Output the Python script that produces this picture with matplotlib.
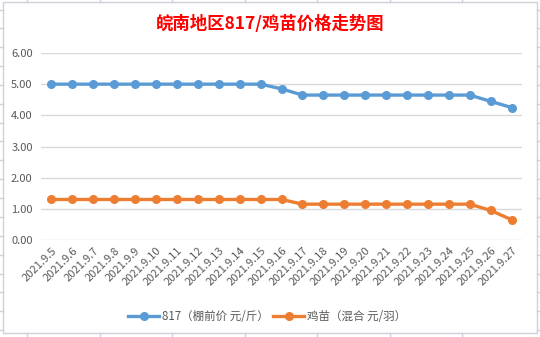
import matplotlib
matplotlib.use("Agg")
import matplotlib.pyplot as plt
from matplotlib.patches import Rectangle
from matplotlib.lines import Line2D

plt.rcParams['font.family'] = ['Noto Sans CJK SC', 'DejaVu Sans']

dates = ["2021.9.5", "2021.9.6", "2021.9.7", "2021.9.8", "2021.9.9", "2021.9.10",
         "2021.9.11", "2021.9.12", "2021.9.13", "2021.9.14", "2021.9.15", "2021.9.16",
         "2021.9.17", "2021.9.18", "2021.9.19", "2021.9.20", "2021.9.21", "2021.9.22",
         "2021.9.23", "2021.9.24", "2021.9.25", "2021.9.26", "2021.9.27"]
price_817 = [5.00, 5.00, 5.00, 5.00, 5.00, 5.00, 5.00, 5.00, 5.00, 5.00, 5.00, 4.85,
             4.65, 4.65, 4.65, 4.65, 4.65, 4.65, 4.65, 4.65, 4.65, 4.45, 4.25]
price_chick = [1.30, 1.30, 1.30, 1.30, 1.30, 1.30, 1.30, 1.30, 1.30, 1.30, 1.30, 1.30,
               1.15, 1.15, 1.15, 1.15, 1.15, 1.15, 1.15, 1.15, 1.15, 0.95, 0.65]
yticks = [0, 1, 2, 3, 4, 5, 6]
series_names = ["817（棚前价 元/斤）", "鸡苗（混合 元/羽）"]
title = "皖南地区817/鸡苗价格走势图"

W, H = 540, 337
fig = plt.figure(figsize=(W / 100, H / 100), dpi=100)
fig.patch.set_facecolor('white')

# chart border
fig.add_artist(Rectangle((3 / W, 1 - 333 / H), (537 - 3) / W, (333 - 2) / H,
                         transform=fig.transFigure, fill=False, edgecolor='#D0D0D8', lw=1))
# spreadsheet grid fragments outside the chart
for x in [27, 100, 172, 245, 317, 390, 462]:
    fig.add_artist(Line2D([x / W, x / W], [1, 1 - 2 / H], transform=fig.transFigure, color='#D0D0D8', lw=1))
    fig.add_artist(Line2D([x / W, x / W], [0, 4 / H], transform=fig.transFigure, color='#D0D0D8', lw=1))
for y in [10, 28, 47, 66, 85, 104, 123, 141, 160, 179, 198, 217, 236, 255, 274, 292, 311, 330]:
    fig.add_artist(Line2D([0, 3 / W], [1 - y / H, 1 - y / H], transform=fig.transFigure, color='#D0D0D8', lw=1))
    fig.add_artist(Line2D([537 / W, 1], [1 - y / H, 1 - y / H], transform=fig.transFigure, color='#D0D0D8', lw=1))

left, right, top, bottom = 41, 522, 53, 240
ax = fig.add_axes([left / W, 1 - bottom / H, (right - left) / W, (bottom - top) / H])
x = list(range(len(dates)))
ax.plot(x, price_817, color='#5B9BD5', lw=2.4, marker='o', markersize=5.5, label=series_names[0], zorder=3)
ax.plot(x, price_chick, color='#ED7D31', lw=2.4, marker='o', markersize=5.5, label=series_names[1], zorder=3)

ax.set_xlim(-0.5, len(dates) - 0.5)
ax.set_ylim(0, 6)
ax.set_yticks(yticks)
ax.set_yticklabels([f"{v:.2f}" for v in yticks], fontsize=8, color='#595959')
ax.set_xticks(x)
ax.set_xticklabels(dates, rotation=45, ha='right', va='top', rotation_mode='anchor',
                   fontsize=8, color='#595959')
ax.tick_params(axis='both', length=0, pad=4)
ax.tick_params(axis='y', pad=6)
ax.grid(axis='y', color='#D9D9D9', lw=1)
ax.set_axisbelow(True)
for s in ax.spines.values():
    s.set_visible(False)

fig.text(270 / W, 1 - 24 / H, title, ha='center', va='center', fontsize=12.5,
         fontweight='bold', color='#FF0000')

leg = fig.legend(loc='center', bbox_to_anchor=(267 / W, 1 - 317 / H), ncol=2, frameon=False,
                 fontsize=8.3, handlelength=2.7, columnspacing=0.4, handletextpad=0.2)
for t in leg.get_texts():
    t.set_color('#595959')

fig.savefig('out.png', dpi=100, facecolor='white')
